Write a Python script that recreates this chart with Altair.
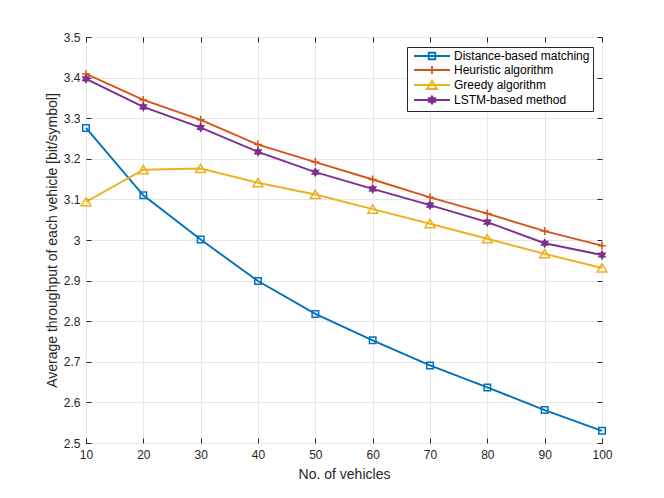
import altair as alt
import pandas as pd

vehicles = [10, 20, 30, 40, 50, 60, 70, 80, 90, 100]
distance_based = [3.276, 3.110, 3.001, 2.899, 2.818, 2.753, 2.691, 2.637, 2.581, 2.530]
heuristic = [3.409, 3.345, 3.296, 3.235, 3.192, 3.149, 3.105, 3.065, 3.022, 2.986]
greedy = [3.094, 3.173, 3.176, 3.141, 3.112, 3.076, 3.040, 3.003, 2.966, 2.931]
lstm = [3.397, 3.328, 3.277, 3.217, 3.167, 3.126, 3.086, 3.044, 2.992, 2.963]

series_names = ["Distance-based matching", "Heuristic algorithm", "Greedy algorithm", "LSTM-based method"]
series_values = [distance_based, heuristic, greedy, lstm]
colors = ["#0072BD", "#D95319", "#EDB120", "#7E2F8E"]
fills = ["transparent", "transparent", "transparent", "#7E2F8E"]

x_ticks = [10, 20, 30, 40, 50, 60, 70, 80, 90, 100]
y_ticks = [2.5, 2.6, 2.7, 2.8, 2.9, 3.0, 3.1, 3.2, 3.3, 3.4, 3.5]

# marker shapes (unit coords)
marker_paths = [
    "M-0.65,-0.65H0.65V0.65H-0.65Z",
    "M-0.8,0H0.8M0,-0.8V0.8",
    "M0,-0.85L1,0.8L-1,0.8Z",
    "M0,-0.72L0.62,0.36L-0.62,0.36Z M0,0.72L-0.62,-0.36L0.62,-0.36Z",
]
legend_paths = [
    "M-0.4,0H6.8 M2.55,-0.65H3.85V0.65H2.55Z",
    "M-0.4,0H6.8 M2.4,0H4M3.2,-0.8V0.8",
    "M-0.4,0H6.8 M3.2,-0.85L4.2,0.8L2.2,0.8Z",
    "M-0.4,0H6.8 M3.2,-0.72L3.82,0.36L2.58,0.36Z M3.2,0.72L2.58,-0.36L3.82,-0.36Z",
]

rows = []
for name, vals in zip(series_names, series_values):
    for xv, yv in zip(vehicles, vals):
        rows.append({"series": name, "vehicles": xv, "throughput": yv})
df = pd.DataFrame(rows)

FONT = "Liberation Sans"
AX = "#262626"

xscale = alt.Scale(domain=[10, 100], nice=False, zero=False)
yscale = alt.Scale(domain=[2.5, 3.5], nice=False, zero=False)

main_x = alt.Axis(values=x_ticks, title="No. of vehicles", grid=True, gridColor="#e6e6e6",
                  ticks=False, domain=False, labelFont=FONT, labelFontSize=12, labelColor=AX,
                  labelPadding=6, titleFont=FONT, titleFontSize=14, titleFontWeight="normal",
                  titleColor=AX, titlePadding=7, labelFlush=False)
main_y = alt.Axis(values=y_ticks, title="Average throughput of each vehicle [bit/symbol]",
                  format="~g", grid=True, gridColor="#e6e6e6", ticks=False, domain=False,
                  labelFont=FONT, labelFontSize=12, labelColor=AX, labelPadding=6,
                  titleFont=FONT, titleFontSize=14, titleFontWeight="normal", titleColor=AX,
                  titlePadding=4, labelFlush=False)

def tick_axis(orient, vals):
    return alt.Axis(orient=orient, values=vals, labels=False, title=None, grid=False,
                    domain=False, ticks=True, tickSize=5, tickColor=AX, offset=-5)

stroke_scale = alt.Scale(domain=series_names, range=colors)

lines = alt.Chart(df).mark_line(strokeWidth=1.9).encode(
    x=alt.X("vehicles:Q", scale=xscale, axis=main_x),
    y=alt.Y("throughput:Q", scale=yscale, axis=main_y),
    stroke=alt.Stroke("series:N", scale=stroke_scale, sort=series_names),
)

point_layers = []
for i, name in enumerate(series_names):
    if i == 0:
        xa, ya = tick_axis("bottom", x_ticks), tick_axis("left", y_ticks)
    elif i == 1:
        xa, ya = tick_axis("top", x_ticks), tick_axis("right", y_ticks)
    else:
        xa, ya = None, None
    pl = alt.Chart(df).transform_filter(alt.datum.series == name).mark_point(
        shape=marker_paths[i], size=100, stroke=colors[i], fill=fills[i],
        strokeWidth=1.5, opacity=1, filled=False,
    ).encode(
        x=alt.X("vehicles:Q", scale=xscale, axis=xa),
        y=alt.Y("throughput:Q", scale=yscale, axis=ya),
    )
    point_layers.append(pl)

legend_layer = alt.Chart(df).transform_filter("datum.vehicles < 0").mark_point(
    size=100, strokeWidth=1.8, opacity=1
).encode(
    x=alt.X("vehicles:Q", scale=xscale, axis=None),
    y=alt.Y("throughput:Q", scale=yscale, axis=None),
    stroke=alt.Stroke("series:N", scale=stroke_scale, sort=series_names),
    fill=alt.Fill("series:N", scale=alt.Scale(domain=series_names, range=fills), sort=series_names),
    shape=alt.Shape("series:N", scale=alt.Scale(domain=series_names, range=legend_paths), sort=series_names),
)

chart = alt.layer(lines, *point_layers, legend_layer).resolve_axis(
    x="independent", y="independent"
).properties(
    width=516, height=406,
    autosize=alt.AutoSizeParams(type="none"),
    padding={"left": 78, "top": 29, "right": 40, "bottom": 40},
).configure_view(
    stroke=AX, strokeWidth=1
).configure_legend(
    orient="none", legendX=321, legendY=10, title=None, padding=3,
    strokeColor=AX, fillColor="white", symbolSize=100, symbolStrokeWidth=1.8,
    labelFont=FONT, labelFontSize=12, labelColor="#000000", labelOffset=32,
    rowPadding=-1, cornerRadius=0,
)

chart.save("out.html", embed_options={"renderer": "svg", "actions": False})
